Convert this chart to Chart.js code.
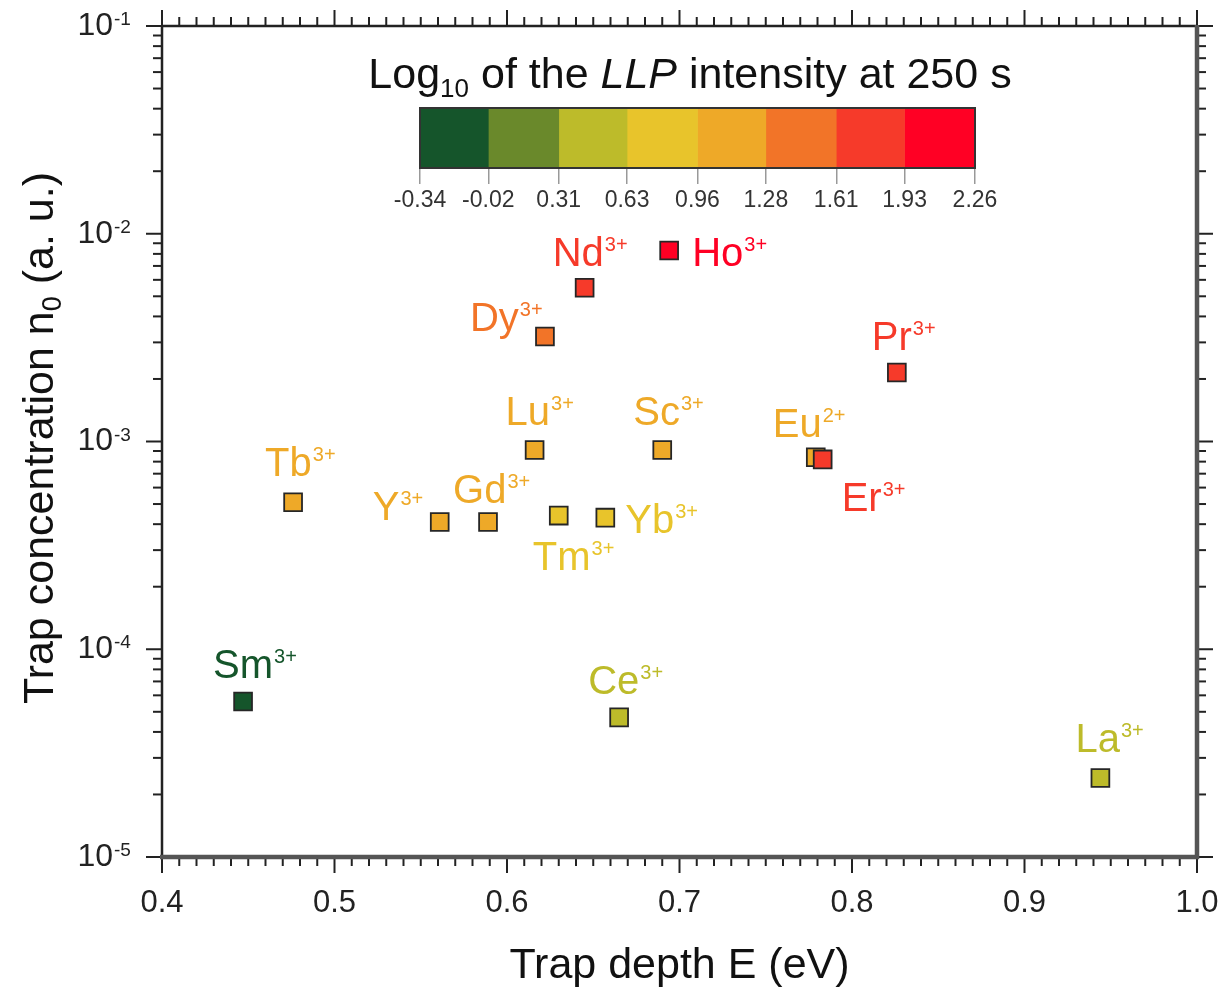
<!DOCTYPE html>
<html><head><meta charset="utf-8">
<script src="https://cdn.jsdelivr.net/npm/chart.js@4.4.1/dist/chart.umd.min.js"></script>
<style>
html,body{margin:0;padding:0;background:#fff;}
#wrap{position:relative;width:1225px;height:992px;overflow:hidden;}
#main{position:absolute;left:0;top:0;}
#cb{position:absolute;left:360px;top:40px;}
</style></head><body>
<div id="wrap"><canvas id="main" width="1225" height="992"></canvas><canvas id="cb" width="680" height="185"></canvas></div>
<script>
// ---------------- data ----------------
const ions      = ['Sm','Tb','Y','Gd','Lu','Tm','Yb','Sc','Dy','Nd','Ho','Pr','Eu','Er','Ce','La'];
const charges   = ['3+','3+','3+','3+','3+','3+','3+','3+','3+','3+','3+','3+','2+','3+','3+','3+'];
const trapDepth = [0.447,0.476,0.561,0.589,0.616,0.630,0.657,0.690,0.622,0.645,0.694,0.826,0.779,0.783,0.665,0.944];
const trapConc  = [5.6e-5,5.1e-4,4.1e-4,4.1e-4,9.1e-4,4.4e-4,4.3e-4,9.1e-4,3.2e-3,5.5e-3,8.3e-3,2.15e-3,8.4e-4,8.2e-4,4.7e-5,2.4e-5];
const llpLog    = [-0.2,1.1,1.1,1.1,1.1,0.8,0.8,1.1,1.45,1.75,2.1,1.75,1.1,1.75,0.45,0.45];
const binEdges  = [-0.34,-0.02,0.31,0.63,0.96,1.28,1.61,1.93,2.26];
const xTicks    = [0.4,0.5,0.6,0.7,0.8,0.9,1.0];
const yTicks    = [1e-5,1e-4,1e-3,1e-2,1e-1];

// ---------------- style ----------------
const binColors = ['#15552B','#6A892B','#BDBB2A','#E8C42B','#EEA928','#F27428','#F63A2A','#FF0024'];
const FONT = "'Liberation Sans', Arial, Helvetica, sans-serif";
// label placement: offset of label's left edge / baseline from point centre (px)
const labelPlacement = {
  Sm:[-30,-24], Tb:[-28,-26], Y:[-67,-2], Gd:[-35,-19], Lu:[-29,-25], Tm:[-26,54],
  Yb:[20,15], Sc:[-29,-25], Dy:[-75,-6], Nd:[-32,-22], Ho:[23,15], Pr:[-25,-22],
  Eu:[-43,-20], Er:[19,52], Ce:[-31,-23], La:[-25,-26]
};
function colorFor(v){
  for(let i=0;i<binColors.length;i++){ if(v<binEdges[i+1]) return binColors[i]; }
  return binColors[binColors.length-1];
}
const pointColors = llpLog.map(colorFor);
Chart.defaults.font.family = FONT;

function line(ctx,x1,y1,x2,y2){ ctx.beginPath(); ctx.moveTo(x1,y1); ctx.lineTo(x2,y2); ctx.stroke(); }

const decor = {
  id:'decor',
  afterDraw(chart){
    const {ctx, chartArea:a, scales:{x,y}} = chart;
    ctx.save();
    // tick marks on all four sides (outward)
    ctx.strokeStyle='#222'; ctx.lineWidth=2;
    for(let i=0;i<=60;i++){
      const v=0.4+i*0.01, maj=(i%10===0), L=maj?16:9;
      const px=x.getPixelForValue(v);
      line(ctx,px,a.bottom,px,a.bottom+L);
      line(ctx,px,a.top,px,a.top-L);
    }
    for(let d=-5; d<=-1; d++){
      for(let m=1;m<=9;m++){
        if(d===-1 && m>1) break;
        const v=m*Math.pow(10,d), L=(m===1)?16:9;
        const py=y.getPixelForValue(v);
        line(ctx,a.left,py,a.left-L,py);
        line(ctx,a.right,py,a.right+L,py);
      }
    }
    // frame
    ctx.lineWidth=2.5; ctx.strokeStyle='#222';
    line(ctx,a.left,a.top,a.right,a.top);
    line(ctx,a.left,a.top,a.left,a.bottom);
    ctx.lineWidth=4.5; ctx.strokeStyle='#555';
    line(ctx,a.left-2,a.bottom,a.right+2,a.bottom);
    line(ctx,a.right,a.top-1,a.right,a.bottom+2);

    // exponents of the y tick labels (the "10" is drawn by the axis)
    ctx.fillStyle='#222'; ctx.textAlign='left'; ctx.textBaseline='alphabetic';
    ctx.font='19px '+FONT;
    y.ticks.forEach(t=>{
      const py=y.getPixelForValue(t.value);
      ctx.fillText(String(Math.round(Math.log10(t.value))), 114, py-1);
    });

    // y title with subscript
    ctx.save();
    ctx.translate(38,438); ctx.rotate(-Math.PI/2);
    ctx.fillStyle='#111'; ctx.textBaseline='alphabetic'; ctx.textAlign='left';
    const f1='43px '+FONT, f2='27px '+FONT;
    const p1='Trap concentration n', p2='0', p3=' (a. u.)';
    ctx.font=f1; const w1=ctx.measureText(p1).width, w3=ctx.measureText(p3).width;
    ctx.font=f2; const w2=ctx.measureText(p2).width;
    let x0=-(w1+w2+w3)/2;
    ctx.font=f1; ctx.fillText(p1,x0,15);
    ctx.font=f2; ctx.fillText(p2,x0+w1,23);
    ctx.font=f1; ctx.fillText(p3,x0+w1+w2,15);
    ctx.restore();

    // colour-bar title
    {
      const parts=[['Log','43px '+FONT,0],['10','26px '+FONT,9],[' of the ','43px '+FONT,0],['LLP','italic 43px '+FONT,0],[' intensity at 250 s','43px '+FONT,0]];
      let tot=0; parts.forEach(p=>{ctx.font=p[1]; p.push(ctx.measureText(p[0]).width); tot+=p[3];});
      let cx=690-tot/2; ctx.fillStyle='#111'; ctx.textAlign='left'; ctx.textBaseline='alphabetic';
      parts.forEach(p=>{ctx.font=p[1]; ctx.fillText(p[0],cx,88+p[2]); cx+=p[3];});
    }
    ctx.restore();
  },
  afterDatasetsDraw(chart){
    const {ctx} = chart; const meta=chart.getDatasetMeta(0);
    ctx.save(); ctx.textAlign='left'; ctx.textBaseline='alphabetic';
    ions.forEach((ion,i)=>{
      const pt=meta.data[i]; const off=labelPlacement[ion];
      const lx=pt.x+off[0], ly=pt.y+off[1];
      ctx.fillStyle=pointColors[i];
      ctx.font='40px '+FONT; ctx.fillText(ion,lx,ly);
      const w=ctx.measureText(ion).width;
      ctx.font='20px '+FONT; ctx.fillText(charges[i],lx+w+1,ly-15);
    });
    ctx.restore();
  }
};

new Chart(document.getElementById('main'),{
  type:'scatter',
  data:{datasets:[{
    data: trapDepth.map((e,i)=>({x:e,y:trapConc[i]})),
    pointStyle:'rect', pointRadius:12.6, pointHoverRadius:12.6,
    pointBackgroundColor: pointColors, pointBorderColor:'#262626', pointBorderWidth:1.8
  }]},
  options:{
    responsive:false, animation:false, devicePixelRatio:1,
    layout:{padding:{left:0,top:26,right:28,bottom:0}},
    plugins:{legend:{display:false}, tooltip:{enabled:false}},
    scales:{
      x:{type:'linear', min:0.4, max:1.0,
        afterBuildTicks(s){ s.ticks = xTicks.map(v=>({value:v})); },
        afterFit(s){ s.height=135; s.paddingLeft=0; s.paddingRight=0; },
        grid:{display:false, drawTicks:false}, border:{display:false},
        ticks:{padding:28, color:'#222', font:{size:31}, callback:v=>Number(v).toFixed(1), maxRotation:0, autoSkip:false},
        title:{display:true, text:'Trap depth E (eV)', color:'#111', font:{size:43}, padding:{top:0,bottom:0}}
      },
      y:{type:'logarithmic', min:1e-5, max:1e-1,
        afterBuildTicks(s){ s.ticks = yTicks.map(v=>({value:v})); },
        afterFit(s){ s.width=162; s.paddingTop=0; s.paddingBottom=0; },
        grid:{display:false, drawTicks:false}, border:{display:false},
        ticks:{padding:49, color:'#222', font:{size:32}, autoSkip:false, callback:()=>'10'}
      }
    }
  },
  plugins:[decor]
});

// ---------------- colour bar ----------------
const cbFrame = {
  id:'cbFrame',
  afterDraw(chart){
    const {ctx, chartArea:a} = chart;
    ctx.save(); ctx.strokeStyle='#333'; ctx.lineWidth=2;
    ctx.strokeRect(a.left,a.top,a.right-a.left,a.bottom-a.top);
    ctx.restore();
  }
};
new Chart(document.getElementById('cb'),{
  type:'bar',
  data:{labels:['cb'], datasets: binColors.map((c,i)=>({
    data:[[binEdges[i],binEdges[i+1]]], backgroundColor:c, borderWidth:0,
    barPercentage:1, categoryPercentage:1, grouped:false }))},
  options:{
    indexAxis:'y', responsive:false, animation:false, devicePixelRatio:1,
    layout:{padding:{left:60,right:65,top:68,bottom:0}},
    plugins:{legend:{display:false}, tooltip:{enabled:false}},
    scales:{
      x:{type:'linear', min:-0.34, max:2.26,
        afterBuildTicks(s){ s.ticks = binEdges.map(v=>({value:v})); },
        afterFit(s){ s.height=57; s.paddingLeft=0; s.paddingRight=0; },
        grid:{display:true, drawOnChartArea:false, drawTicks:true, tickLength:16, color:'#999', lineWidth:1.5},
        border:{display:false},
        ticks:{padding:3, color:'#333', font:{size:23}, autoSkip:false, maxRotation:0,
          callback:v=>Number(v).toFixed(2)}
      },
      y:{display:false}
    }
  },
  plugins:[cbFrame]
});
</script>
</body></html>
